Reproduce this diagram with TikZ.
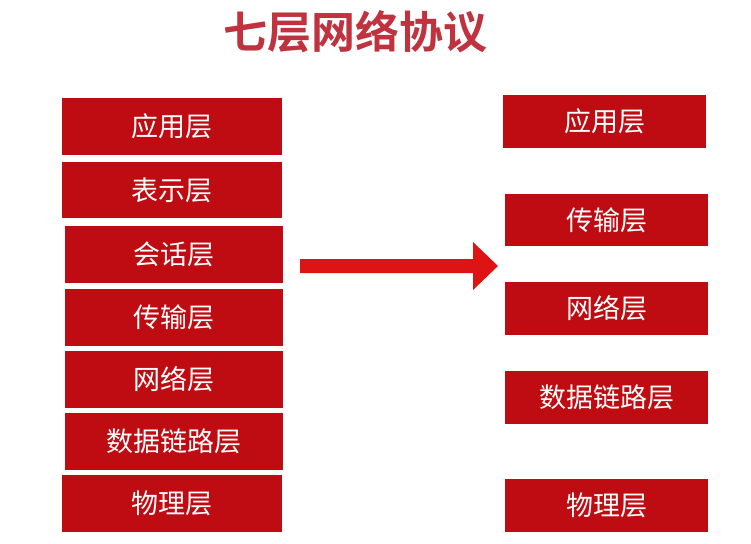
\documentclass[tikz,border=0pt]{standalone}
\usepackage{fontspec}
\newfontfamily\cjk{Noto Sans CJK SC}
\newfontfamily\cjkb{Noto Sans CJK SC Bold}
\definecolor{boxred}{RGB}{190,12,18}
\definecolor{titlered}{RGB}{192,50,62}
\definecolor{arrred}{RGB}{222,20,20}
\begin{document}
\begin{tikzpicture}[x=1pt,y=-1pt]
\useasboundingbox (0,0) rectangle (751,543);
\fill[white] (0,0) rectangle (751,543);
\node[text=titlered,font=\cjkb\fontsize{44}{44}\selectfont] (title) at (355,32) {七层网络协议};
\foreach \n/\xa/\ya/\xb/\yb/\t in {
 l1/62/98/282/155/应用层, l2/62/162/282/218/表示层, l3/65/226/283/283/会话层,
 l4/65/289/283/346/传输层, l5/65/351/283/408/网络层, l6/65/413/283/470/数据链路层,
 l7/62/475/282/532/物理层,
 r1/503/95/706/148/应用层, r2/505/194/708/246/传输层, r3/505/282/708/335/网络层,
 r4/505/371/708/424/数据链路层, r5/505/479/708/532/物理层}{
 \fill[boxred] (\xa,\ya) rectangle (\xb,\yb);
 \node[text=white,font=\cjk\fontsize{27}{27}\selectfont] (\n) at ({(\xa+\xb)/2},{(\ya+\yb)/2}) {\t};
}
\fill[arrred] (300,259) -- (473,259) -- (473,242) -- (498,266) -- (473,290) -- (473,273) -- (300,273) -- cycle;
\end{tikzpicture}
\end{document}
